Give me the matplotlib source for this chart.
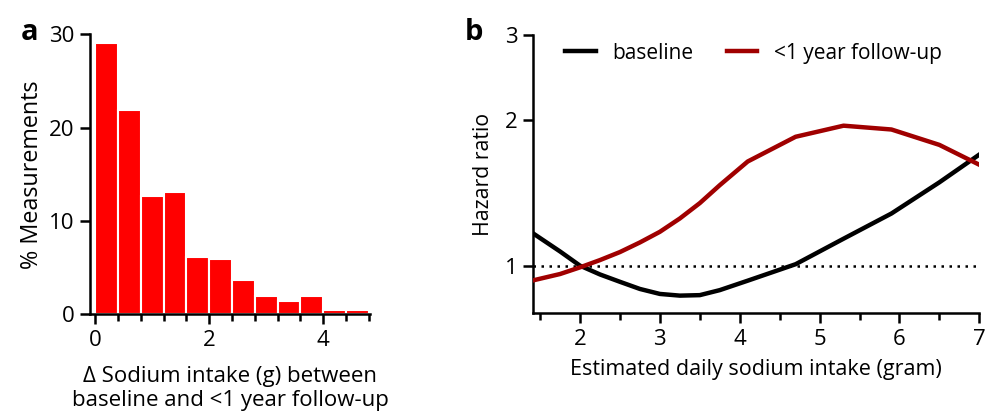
import matplotlib
matplotlib.use("Agg")
import matplotlib.pyplot as plt
import numpy as np
from matplotlib.ticker import FixedLocator, NullLocator, FixedFormatter

plt.rcParams['font.family'] = ['Open Sans', 'DejaVu Sans']

# ---- Panel a data ----
bin_edges = [0.0, 0.4, 0.8, 1.2, 1.6, 2.0, 2.4, 2.8, 3.2, 3.6, 4.0, 4.4, 4.8]
pct_measurements = [29.1, 21.9, 12.7, 13.1, 6.15, 5.95, 3.7, 2.0, 1.45, 2.0, 0.5, 0.5]

# ---- Panel b data ----
sodium_x = [1.42, 1.75, 2.0, 2.25, 2.5, 2.75, 3.0, 3.25, 3.5, 3.75, 4.1,
            4.7, 5.3, 5.9, 6.5, 7.0]
hr_baseline = [1.167, 1.073, 1.003, 0.962, 0.929, 0.898, 0.877, 0.870, 0.872, 0.893, 0.934,
               1.01, 1.14, 1.285, 1.49, 1.70]
hr_followup = [0.936, 0.964, 0.995, 1.03, 1.07, 1.12, 1.178, 1.255, 1.35, 1.47, 1.645,
               1.85, 1.95, 1.915, 1.78, 1.62]

TICK_FS = 16
fig = plt.figure(figsize=(9.92, 4.12), dpi=100)

# ---------- Panel a ----------
axa = fig.add_axes([0.0907, 0.2371, 0.2823, 0.6796])
lefts = bin_edges[:-1]
widths = np.diff(bin_edges)
axa.bar(lefts, pct_measurements, width=widths, align='edge', color='#FF0000',
        edgecolor='white', linewidth=1.5)
axa.set_xlim(-0.09, 4.82)
axa.set_ylim(0, 30)
axa.xaxis.set_major_locator(FixedLocator([0, 2, 4]))
axa.xaxis.set_minor_locator(FixedLocator(bin_edges))
axa.yaxis.set_major_locator(FixedLocator([0, 10, 20, 30]))
for s in ['top', 'right']:
    axa.spines[s].set_visible(False)
for s in ['left', 'bottom']:
    axa.spines[s].set_linewidth(1.8)
axa.tick_params(axis='both', which='major', direction='out', length=7, width=1.8,
                labelsize=TICK_FS, pad=4)
axa.tick_params(axis='x', which='minor', direction='out', length=5, width=1.8)
axa.set_ylabel('% Measurements', fontsize=16.8, labelpad=4)
axa.set_xlabel('\u0394 Sodium intake (g) between\nbaseline and <1 year follow-up',
               fontsize=16, labelpad=11, linespacing=1.2)
fig.text(0.021, 0.903, 'a', fontsize=21, fontweight='bold', va='baseline')

# ---------- Panel b ----------
axb = fig.add_axes([0.5376, 0.2396, 0.4496, 0.6755])
axb.plot(sodium_x, hr_baseline, color='black', lw=3.2, label='baseline',
         solid_joinstyle='round', zorder=3)
axb.plot(sodium_x, hr_followup, color='#A00000', lw=3.2, label='<1 year follow-up',
         solid_joinstyle='round', zorder=3)
axb.axhline(1.0, color='black', lw=1.8, linestyle=(0, (1, 2.2)), zorder=2)
axb.set_yscale('log')
axb.set_ylim(0.8, 3)
axb.set_xlim(1.415, 7.0)
axb.yaxis.set_major_locator(FixedLocator([1, 2, 3]))
axb.yaxis.set_major_formatter(FixedFormatter(['1', '2', '3']))
axb.yaxis.set_minor_locator(NullLocator())
axb.xaxis.set_major_locator(FixedLocator([2, 3, 4, 5, 6, 7]))
axb.xaxis.set_minor_locator(FixedLocator([1.5, 2.5, 3.5, 4.5, 5.5, 6.5]))
for s in ['top', 'right']:
    axb.spines[s].set_visible(False)
for s in ['left', 'bottom']:
    axb.spines[s].set_linewidth(1.8)
axb.tick_params(axis='both', which='major', direction='out', length=7, width=1.8,
                labelsize=TICK_FS, pad=4)
axb.tick_params(axis='x', which='minor', direction='out', length=5, width=1.8)
axb.set_ylabel('Hazard ratio', fontsize=15.3, labelpad=8)
axb.set_xlabel('Estimated daily sodium intake (gram)', fontsize=15.5, labelpad=7)
leg = axb.legend(loc='upper left', bbox_to_anchor=(0.03, 1.04), ncol=2, frameon=False,
                 fontsize=15, handlelength=1.45, handletextpad=0.8, columnspacing=1.6)
fig.text(0.469, 0.903, 'b', fontsize=21, fontweight='bold', va='baseline')

fig.savefig('out.png', dpi=100)
